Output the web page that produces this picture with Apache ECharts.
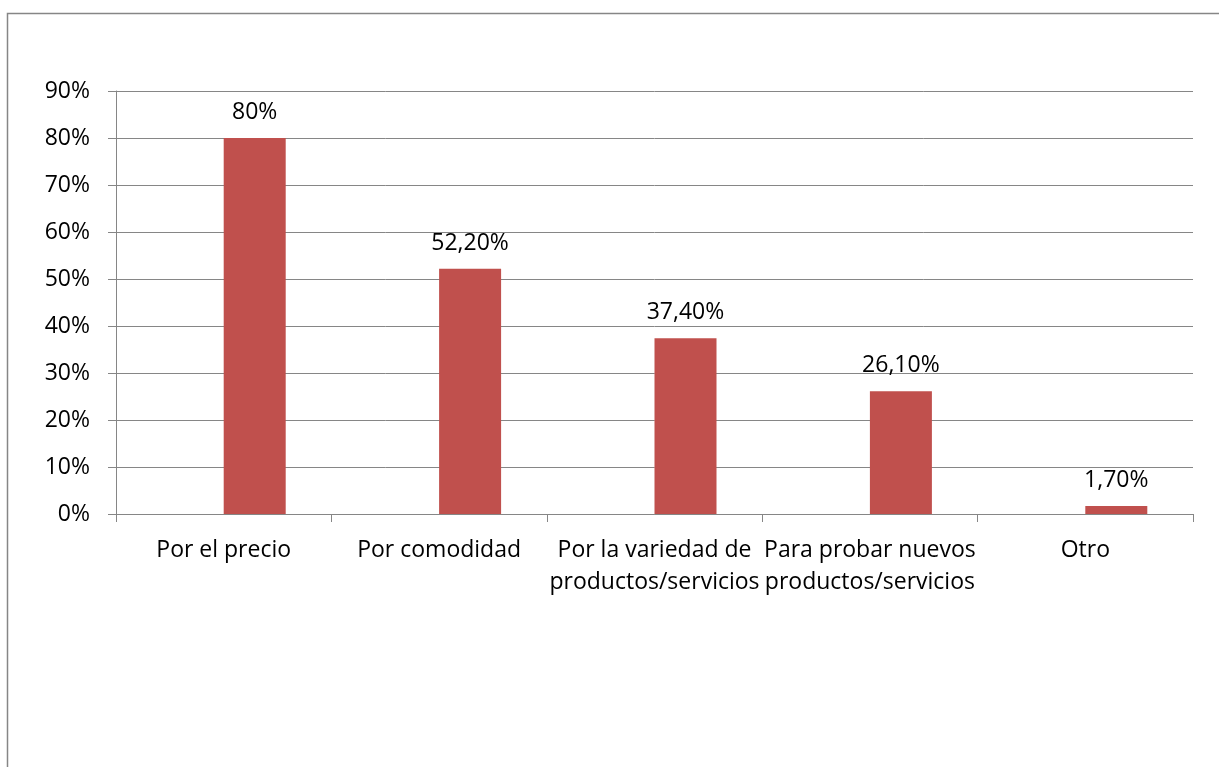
<!DOCTYPE html>
<html>
<head>
<meta charset="utf-8">
<script src="https://cdn.jsdelivr.net/npm/echarts@6/dist/echarts.min.js"></script>
<style>
  html, body { margin: 0; padding: 0; background: #fff; }
  #chart { width: 1219px; height: 767px; }
</style>
</head>
<body>
<div id="chart"></div>
<script>
// Motivos de compra (porcentaje de respuestas)
const categories = [
  'Por el precio',
  'Por comodidad',
  'Por la variedad de\nproductos/servicios',
  'Para probar nuevos\nproductos/servicios',
  'Otro'
];
const values = [80, 52.2, 37.4, 26.1, 1.7];
const yTicks = [0, 10, 20, 30, 40, 50, 60, 70, 80, 90];

const FONT = '"Open Sans", "Liberation Sans", sans-serif';
const AXIS_GREY = '#868686';

function pct(v) {
  return Number.isInteger(v) ? v + '%' : v.toFixed(2).replace('.', ',') + '%';
}

const chart = echarts.init(document.getElementById('chart'));
chart.setOption({
  animation: false,
  backgroundColor: '#ffffff',
  graphic: [{
    type: 'rect',
    shape: { x: 7.5, y: 13.5, width: 1300, height: 900 },
    style: { fill: 'none', stroke: AXIS_GREY, lineWidth: 1.5 },
    silent: true
  }],
  grid: { left: 116, right: 26, top: 91, bottom: 253, containLabel: false },
  xAxis: {
    type: 'category',
    data: categories,
    boundaryGap: true,
    axisLine: { lineStyle: { color: AXIS_GREY, width: 1 } },
    axisTick: { show: true, alignWithLabel: false, length: 8, lineStyle: { color: AXIS_GREY } },
    axisLabel: {
      interval: 0,
      margin: 20,
      color: '#000',
      fontFamily: FONT,
      fontSize: 23,
      lineHeight: 32,
      align: 'center'
    }
  },
  yAxis: {
    type: 'value',
    min: yTicks[0],
    max: yTicks[yTicks.length - 1],
    interval: 10,
    axisLine: { show: true, lineStyle: { color: AXIS_GREY, width: 1 } },
    axisTick: { show: true, length: 8, lineStyle: { color: AXIS_GREY } },
    splitLine: { show: true, lineStyle: { color: AXIS_GREY, width: 1 } },
    axisLabel: {
      margin: 26,
      color: '#000',
      fontFamily: FONT,
      fontSize: 23,
      formatter: v => v + '%'
    }
  },
  series: [
    {
      // placeholder slot that keeps the visible bar right of centre
      type: 'bar',
      data: categories.map(() => null),
      barWidth: 62,
      barGap: '0%',
      silent: true
    },
    {
      type: 'bar',
      data: values,
      barWidth: 62,
      barGap: '0%',
      itemStyle: { color: '#C0504D' },
      label: {
        show: true,
        position: 'top',
        distance: 14,
        color: '#000',
        fontFamily: FONT,
        fontSize: 23,
        formatter: p => pct(p.value)
      }
    }
  ]
});
</script>
</body>
</html>
